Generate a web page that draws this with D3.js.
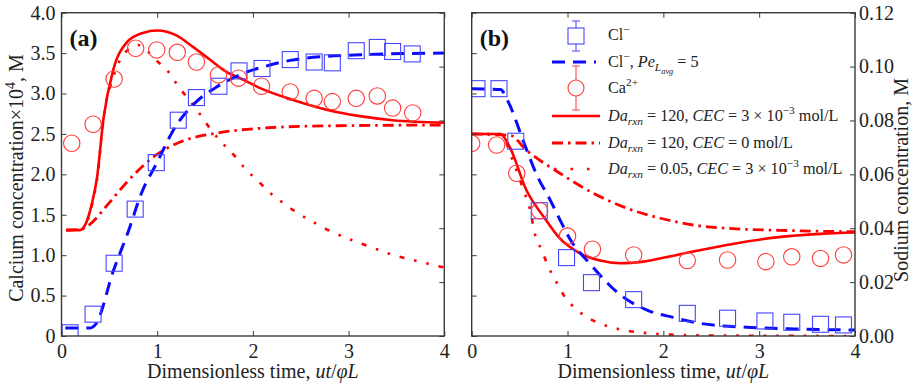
<!DOCTYPE html>
<html>
<head>
<meta charset="utf-8">
<script src="https://cdn.jsdelivr.net/npm/d3@7"></script>
<style>
  body { margin: 0; background: #fff; }
  svg text { font-family: "Liberation Serif", "Times New Roman", Times, "DejaVu Serif", serif; }
</style>
</head>
<body>
<svg id="chart" width="913" height="387"></svg>
<script>
// ---- data ----
const timeTicks = [0, 1, 2, 3, 4];
const caTicks = [0, 0.5, 1, 1.5, 2, 2.5, 3, 3.5, 4];
const caTickLabels = ["0", "0.5", "1.0", "1.5", "2.0", "2.5", "3.0", "3.5", "4.0"];
const naTicks = [0, 0.02, 0.04, 0.06, 0.08, 0.1, 0.12];
const naTickLabels = ["0.00", "0.02", "0.04", "0.06", "0.08", "0.10", "0.12"];

// panel (a): calcium, measured
const clTimeA = [0.09, 0.33, 0.55, 0.77, 0.99, 1.22, 1.41, 1.645, 1.855, 2.095, 2.39, 2.64, 2.83, 3.08, 3.30, 3.46, 3.665];
const clValA = [0.04, 0.27, 0.90, 1.57, 2.145, 2.67, 2.95, 3.09, 3.28, 3.31, 3.42, 3.39, 3.38, 3.53, 3.57, 3.52, 3.49];
const caTimeA = [0.107, 0.33, 0.55, 0.775, 0.995, 1.21, 1.41, 1.64, 1.85, 2.09, 2.39, 2.64, 2.83, 3.08, 3.30, 3.46, 3.67];
const caValA = [2.385, 2.62, 3.18, 3.56, 3.54, 3.51, 3.39, 3.23, 3.19, 3.09, 3.02, 2.94, 2.90, 2.94, 2.97, 2.82, 2.76];

// panel (a): model curves [t, value]
const clFitA = [[0.04, 0.1], [0.3, 0.1], [0.36, 0.15], [0.54, 0.8], [0.7, 1.3], [0.84, 1.78], [1.0, 2.15], [1.17, 2.55], [1.41, 2.9], [1.62, 3.08], [1.9, 3.25], [2.11, 3.33], [2.39, 3.41], [2.77, 3.46], [3.12, 3.48], [4.0, 3.5]];
const solidA = [[0.05, 1.31], [0.19, 1.31], [0.25, 1.38], [0.32, 1.65], [0.37, 1.95], [0.44, 2.7], [0.54, 3.29], [0.68, 3.63], [0.85, 3.75], [1.0, 3.78], [1.2, 3.72], [1.37, 3.58], [1.55, 3.42], [1.72, 3.27], [1.9, 3.17], [2.07, 3.07], [2.42, 2.92], [2.77, 2.80], [3.12, 2.72], [3.46, 2.67], [4.0, 2.64]];
const dashDotA = [[0.05, 1.31], [0.2, 1.32], [0.26, 1.35], [0.5, 1.65], [0.68, 1.9], [0.99, 2.24], [1.31, 2.43], [1.62, 2.51], [2.07, 2.57], [2.77, 2.60], [4.0, 2.61]];
const dottedA = [[0.05, 1.31], [0.19, 1.31], [0.25, 1.37], [0.32, 1.63], [0.37, 1.92], [0.44, 2.7], [0.54, 3.2], [0.66, 3.5], [0.8, 3.6], [0.9, 3.52], [1.0, 3.40], [1.115, 3.27], [1.22, 3.09], [1.32, 2.94], [1.45, 2.74], [1.55, 2.57], [1.67, 2.40], [1.80, 2.24], [1.92, 2.07], [2.06, 1.91], [2.18, 1.77], [2.30, 1.66], [2.47, 1.52], [2.63, 1.41], [2.77, 1.32], [2.96, 1.22], [3.12, 1.15], [3.28, 1.08], [3.47, 1.00], [3.64, 0.95], [3.81, 0.90], [3.99, 0.85]];

// panel (b): Cl- on calcium scale, sodium on sodium scale
const clTimeB = [0.055, 0.285, 0.46, 0.705, 0.99, 1.25, 1.69, 2.25, 2.67, 3.06, 3.34, 3.64, 3.88];
const clValB = [3.06, 3.06, 2.41, 1.55, 0.97, 0.66, 0.45, 0.28, 0.22, 0.186, 0.17, 0.145, 0.137];
const naTimeB = [0.0, 0.26, 0.47, 0.71, 1.0, 1.26, 1.69, 2.25, 2.67, 3.07, 3.34, 3.64, 3.88];
const naValB = [0.0715, 0.0709, 0.0604, 0.0465, 0.0371, 0.0322, 0.0301, 0.0280, 0.0282, 0.0276, 0.0294, 0.0288, 0.0301];

const clFitB = [[0, 3.06], [0.3, 3.05], [0.38, 2.9], [0.555, 2.36], [0.68, 1.99], [0.82, 1.68], [0.92, 1.44], [1.03, 1.19], [1.23, 0.9], [1.55, 0.51], [1.83, 0.32], [2.1, 0.23], [2.38, 0.157], [2.87, 0.108], [3.36, 0.087], [4.0, 0.074]];
const solidB = [[0, 0.075], [0.3, 0.075], [0.395, 0.0703], [0.57, 0.0542], [0.75, 0.0443], [0.92, 0.0362], [1.13, 0.0307], [1.34, 0.028], [1.55, 0.027], [1.79, 0.0276], [2.14, 0.0301], [2.66, 0.0338], [3.18, 0.0366], [3.64, 0.0379], [4.0, 0.0384]];
const dashDotB = [[0, 0.075], [0.4, 0.0745], [0.57, 0.069], [0.92, 0.0604], [1.27, 0.053], [1.62, 0.0474], [1.97, 0.0437], [2.31, 0.0412], [2.66, 0.040], [3.36, 0.0391], [4.0, 0.0387]];
const dottedB = [[0, 0.075], [0.3, 0.075], [0.43, 0.065], [0.54, 0.0542], [0.61, 0.0468], [0.66, 0.0377], [0.73, 0.0319], [0.80, 0.0257], [0.89, 0.0196], [0.97, 0.0146], [1.10, 0.0097], [1.27, 0.0057], [1.43, 0.0035], [1.62, 0.002], [1.97, 0.0007], [2.5, 0.0002], [4.0, 0.0]];

// ---- styles ----
const RED = "#ff0000", BLUE = "#0a0aff";
const MRED = "#ff3b3b", MBLUE = "#4646ff";
const FRAME = "#3a3a3a";
const SERIF = '"Liberation Serif", "Times New Roman", Times, "DejaVu Serif", serif';
const styles = {
  clFit: {stroke: BLUE, width: 3, dash: "13,8"},
  solid: {stroke: RED, width: 2.6, dash: null},
  dashDot: {stroke: RED, width: 2.8, dash: "11,5,2.5,5"},
  dotted: {stroke: RED, width: 2.6, dash: "5,10,2.5,10,2.5,10"}
};

const svg = d3.select("#chart");
const plotTop = 12.7, plotBottom = 336;
const caScale = d3.scaleLinear().domain([0, 4]).range([plotBottom, plotTop]);
const naScale = d3.scaleLinear().domain([0, 0.12]).range([plotBottom, plotTop]);

// rich text helper (italic / sup / sub pieces)
function rich(sel, x, y, segs, size) {
  const t = sel.append("text").attr("x", x).attr("y", y)
    .attr("font-family", SERIF)
    .style("font-size", size + "px").attr("fill", "#222");
  let cur = 0;
  segs.forEach(s => {
    const off = s.pos === "sup" ? -0.42 * size : s.pos === "sub" ? 0.22 * size : s.pos === "subsub" ? 0.42 * size : 0;
    const fs = s.pos === "sup" || s.pos === "sub" ? 0.7 * size : s.pos === "subsub" ? 0.52 * size : size;
    t.append("tspan").attr("dy", off - cur)
      .style("font-size", fs + "px")
      .style("font-style", s.it ? "italic" : "normal")
      .text(s.t);
    cur = off;
  });
  return t;
}

function drawPanel(id, x0, x1, opts) {
  const xScale = d3.scaleLinear().domain([0, 4]).range([x0, x1]);
  const g = svg.append("g");

  g.append("clipPath").attr("id", "clip" + id)
    .append("rect").attr("x", x0).attr("y", plotTop).attr("width", x1 - x0).attr("height", plotBottom - plotTop);
  const plot = g.append("g").attr("clip-path", `url(#clip${id})`);

  const line = yS => d3.line().x(d => xScale(d[0])).y(d => yS(d[1])).curve(d3.curveMonotoneX);

  // model curves
  opts.curves.forEach(c => {
    const st = styles[c.style];
    plot.append("path")
      .attr("d", line(c.scale)(c.data))
      .attr("fill", "none")
      .attr("stroke", st.stroke)
      .attr("stroke-width", st.width)
      .attr("stroke-dasharray", st.dash);
  });

  // measured markers
  plot.selectAll(".sq").data(d3.zip(opts.clT, opts.clV)).join("rect")
    .attr("x", d => xScale(d[0]) - 8).attr("y", d => caScale(d[1]) - 8)
    .attr("width", 16).attr("height", 16)
    .attr("fill", "none").attr("stroke", MBLUE).attr("stroke-width", 1.1);
  plot.selectAll(".ci").data(d3.zip(opts.cirT, opts.cirV)).join("circle")
    .attr("cx", d => xScale(d[0])).attr("cy", d => opts.cirScale(d[1])).attr("r", 8.2)
    .attr("fill", "none").attr("stroke", MRED).attr("stroke-width", 1.1);

  // axes (ticks inward)
  const fmt = (ticks, labels) => v => labels[ticks.indexOf(v)];
  const axB = g.append("g").attr("transform", `translate(0,${plotBottom})`)
    .call(d3.axisBottom(xScale).tickValues(timeTicks).tickFormat(d3.format("d")).tickSizeInner(-5).tickSizeOuter(0).tickPadding(8));
  const axT = g.append("g").attr("transform", `translate(0,${plotTop})`)
    .call(d3.axisTop(xScale).tickValues(timeTicks).tickFormat("").tickSizeInner(-5).tickSizeOuter(0));
  const axL = g.append("g").attr("transform", `translate(${x0},0)`)
    .call(d3.axisLeft(caScale).tickValues(caTicks)
      .tickFormat(opts.leftLabels ? fmt(caTicks, caTickLabels) : "").tickSizeInner(-5).tickSizeOuter(0).tickPadding(6));
  const axR = g.append("g").attr("transform", `translate(${x1},0)`)
    .call(d3.axisRight(naScale).tickValues(naTicks)
      .tickFormat(opts.rightLabels ? fmt(naTicks, naTickLabels) : "").tickSizeInner(-5).tickSizeOuter(0).tickPadding(4));
  [axB, axT, axL, axR].forEach(a => {
    a.attr("font-family", SERIF);
    a.select(".domain").remove();
    a.selectAll("line").attr("stroke", FRAME).attr("stroke-width", 1);
    a.selectAll("text").attr("fill", "#222").style("font-size", "20px");
  });

  g.append("rect").attr("x", x0).attr("y", plotTop).attr("width", x1 - x0).attr("height", plotBottom - plotTop)
    .attr("fill", "none").attr("stroke", FRAME).attr("stroke-width", 1.4);

  g.append("text").attr("x", x0 + 8).attr("y", plotTop + 33).attr("font-family", SERIF)
    .style("font-size", "24px").style("font-weight", "bold").attr("fill", "#111").text(opts.tag);

  // x label
  rich(g, (x0 + x1) / 2, 378, [{t: "Dimensionless time, "}, {t: "ut", it: true}, {t: "/"}, {t: "φL", it: true}], 20)
    .attr("text-anchor", "middle");
  return xScale;
}

drawPanel("a", 61.5, 444.3, {
  tag: "(a)", leftLabels: true, rightLabels: false,
  clT: clTimeA, clV: clValA, cirT: caTimeA, cirV: caValA, cirScale: caScale,
  curves: [
    {data: dottedA, style: "dotted", scale: caScale},
    {data: dashDotA, style: "dashDot", scale: caScale},
    {data: solidA, style: "solid", scale: caScale},
    {data: clFitA, style: "clFit", scale: caScale}
  ]
});

drawPanel("b", 471.7, 855, {
  tag: "(b)", leftLabels: false, rightLabels: true,
  clT: clTimeB, clV: clValB, cirT: naTimeB, cirV: naValB, cirScale: naScale,
  curves: [
    {data: dottedB, style: "dotted", scale: naScale},
    {data: dashDotB, style: "dashDot", scale: naScale},
    {data: solidB, style: "solid", scale: naScale},
    {data: clFitB, style: "clFit", scale: caScale}
  ]
});

// y labels
rich(svg, 0, 0, [{t: "Calcium concentration×10"}, {t: "4", pos: "sup"}, {t: ", M"}], 20)
  .attr("text-anchor", "middle").attr("transform", "translate(23,178) rotate(-90)");
rich(svg, 0, 0, [{t: "Sodium concentration, M"}], 20)
  .attr("text-anchor", "middle").attr("transform", "translate(908,180) rotate(-90)");

// legend
const leg = svg.append("g");
const lx0 = 552, lx1 = 600, tx = 608;
const rowsY = [35, 62, 88, 116, 143, 169];
// Cl- marker with error bar
const mx = 576;
leg.append("line").attr("x1", mx).attr("x2", mx).attr("y1", rowsY[0] - 14).attr("y2", rowsY[0] + 16).attr("stroke", MBLUE);
[rowsY[0] - 14, rowsY[0] + 16].forEach(y => leg.append("line").attr("x1", mx - 4).attr("x2", mx + 4).attr("y1", y).attr("y2", y).attr("stroke", MBLUE));
leg.append("rect").attr("x", mx - 8).attr("y", rowsY[0] - 7).attr("width", 16).attr("height", 16)
  .attr("fill", "#fff").attr("stroke", MBLUE).attr("stroke-width", 1.1);
// Ca2+ marker with error bar
leg.append("line").attr("x1", mx).attr("x2", mx).attr("y1", rowsY[2] - 22).attr("y2", rowsY[2] + 22).attr("stroke", MRED);
[rowsY[2] - 22, rowsY[2] + 22].forEach(y => leg.append("line").attr("x1", mx - 4).attr("x2", mx + 4).attr("y1", y).attr("y2", y).attr("stroke", MRED));
leg.append("circle").attr("cx", mx).attr("cy", rowsY[2]).attr("r", 8).attr("fill", "#fff").attr("stroke", MRED).attr("stroke-width", 1.1);
// line samples
[["clFit", 1], ["solid", 3], ["dashDot", 4], ["dotted", 5]].forEach(([s, i]) => {
  const st = styles[s];
  leg.append("line").attr("x1", lx0).attr("x2", s === "clFit" ? 596 : lx1).attr("y1", rowsY[i]).attr("y2", rowsY[i])
    .attr("stroke", st.stroke).attr("stroke-width", st.width)
    .attr("stroke-dasharray", s === "dotted" ? "2.5,14" : st.dash)
    .attr("stroke-dashoffset", s === "dotted" ? -2 : 0);
});
const legendTexts = [
  [{t: "Cl"}, {t: "−", pos: "sup"}],
  [{t: "Cl"}, {t: "−", pos: "sup"}, {t: ", "}, {t: "Pe", it: true}, {t: "L", it: true, pos: "sub"}, {t: "avg", it: true, pos: "subsub"}, {t: " = 5"}],
  [{t: "Ca"}, {t: "2+", pos: "sup"}],
  [{t: "Da", it: true}, {t: "rxn", it: true, pos: "sub"}, {t: " = 120, "}, {t: "CEC", it: true}, {t: " = 3 × 10"}, {t: "−3", pos: "sup"}, {t: " mol/L"}],
  [{t: "Da", it: true}, {t: "rxn", it: true, pos: "sub"}, {t: " = 120, "}, {t: "CEC", it: true}, {t: " = 0 mol/L"}],
  [{t: "Da", it: true}, {t: "rxn", it: true, pos: "sub"}, {t: " = 0.05, "}, {t: "CEC", it: true}, {t: " = 3 × 10"}, {t: "−3", pos: "sup"}, {t: " mol/L"}]
];
legendTexts.forEach((segs, i) => rich(leg, tx, rowsY[i] + 5, segs, 16.2));
</script>
</body>
</html>
